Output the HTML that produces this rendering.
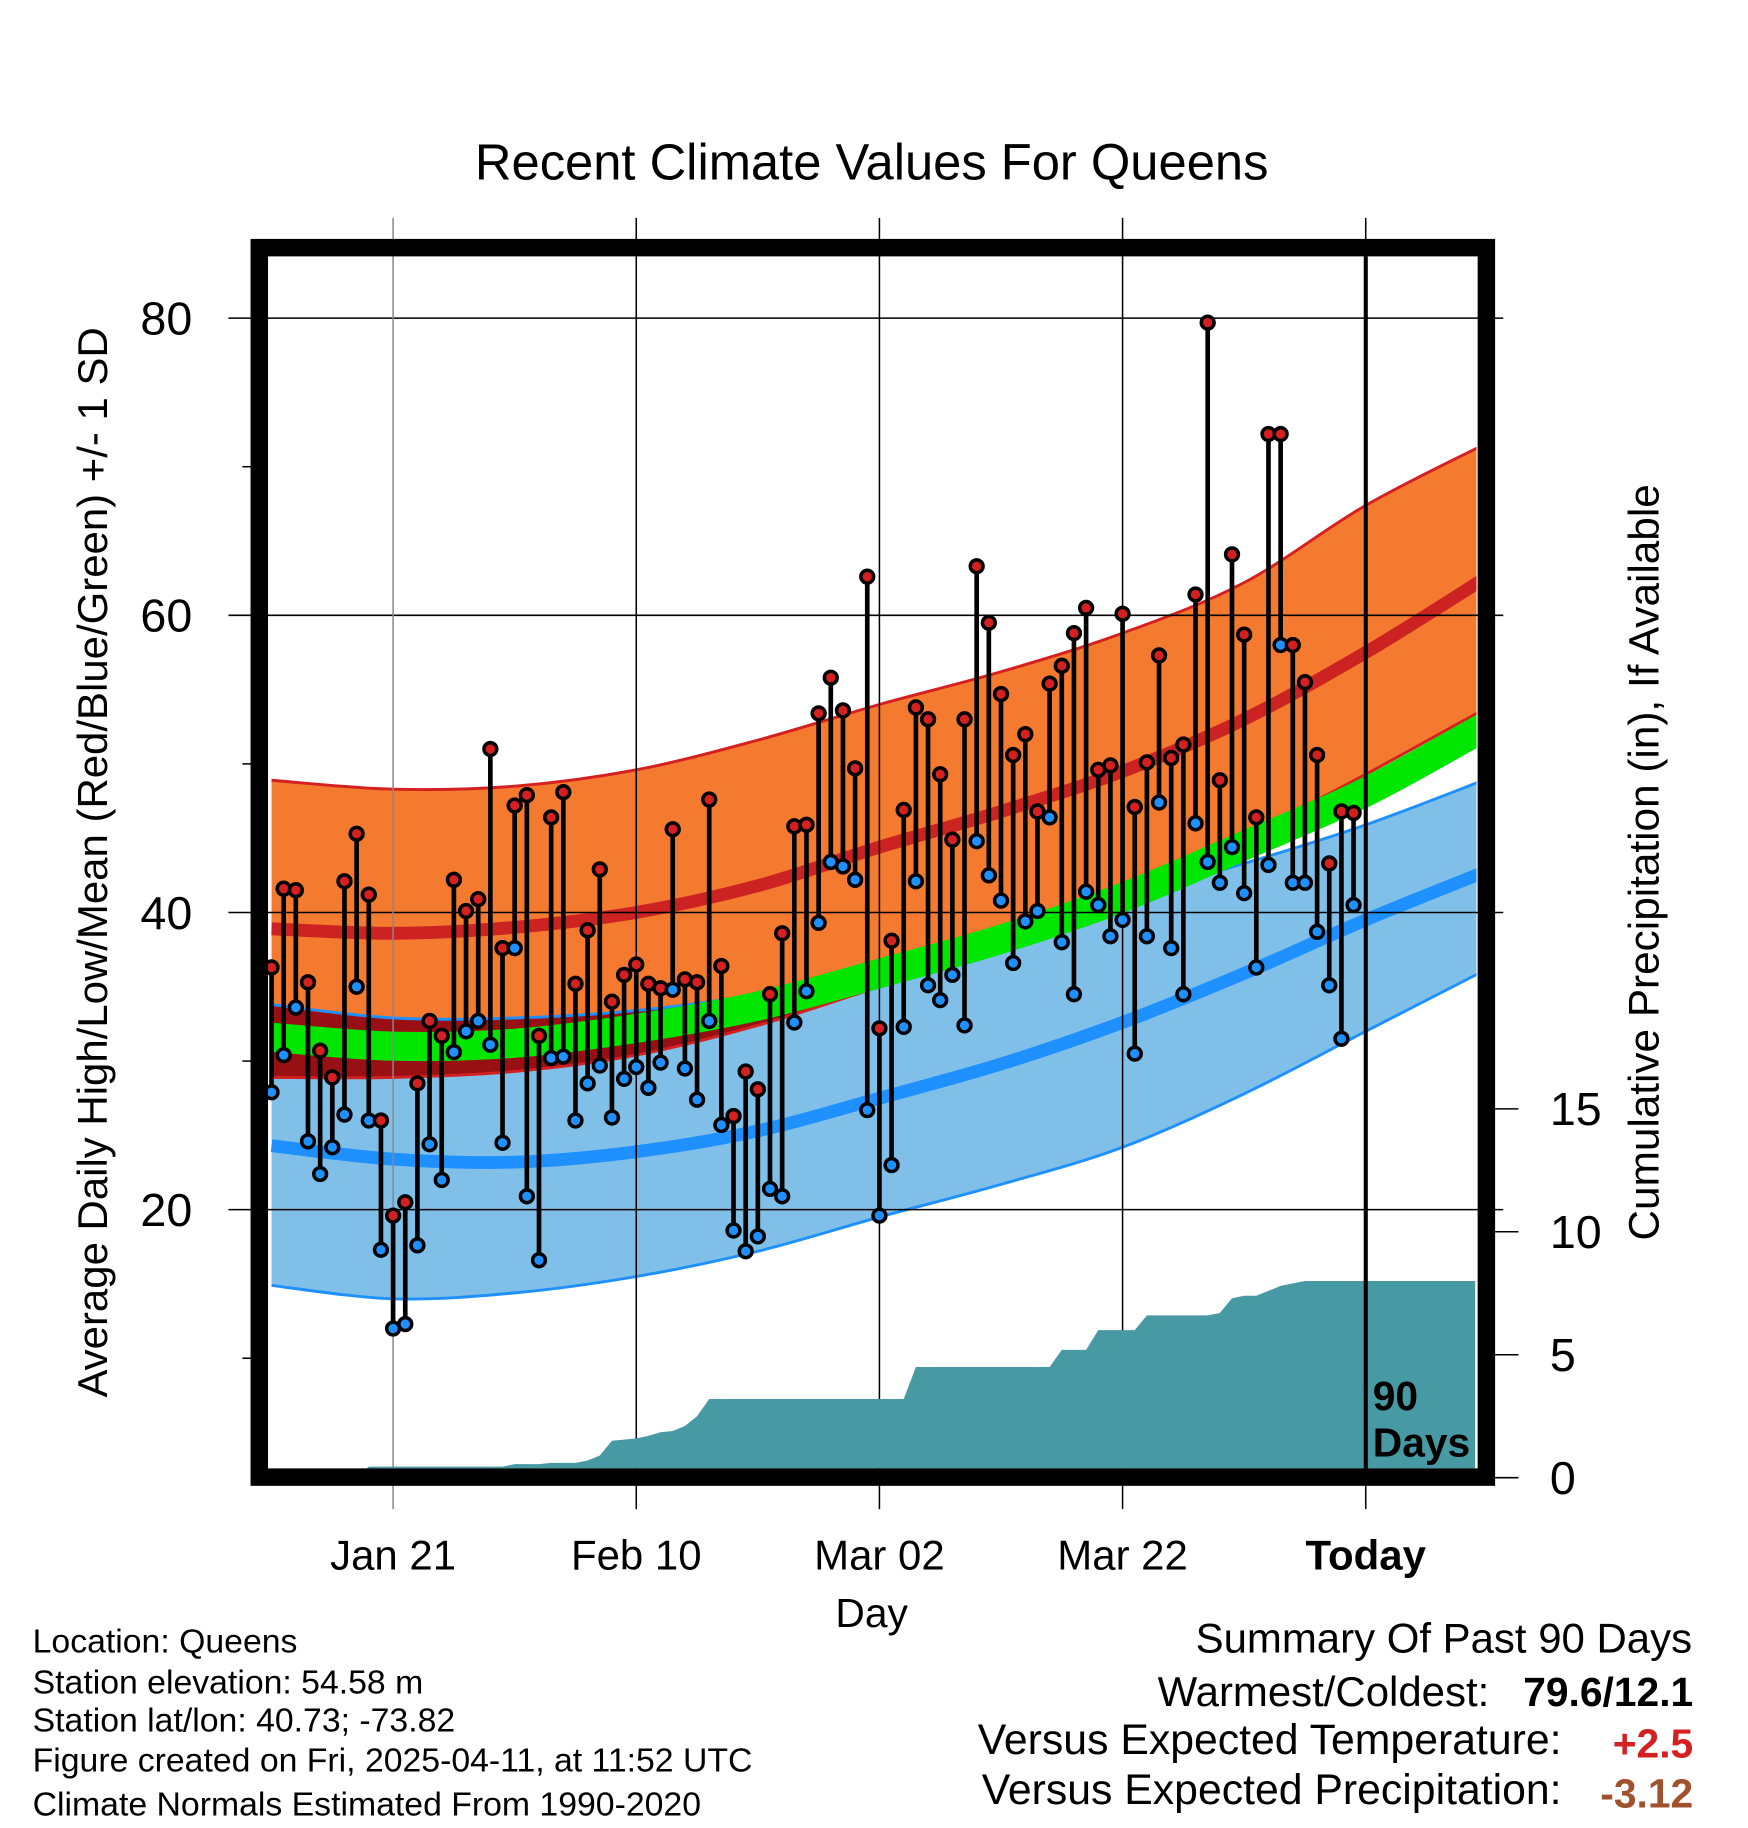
<!DOCTYPE html>
<html><head><meta charset="utf-8"><style>
html,body{margin:0;padding:0;background:#fff;}
svg{display:block;font-family:"Liberation Sans",sans-serif;}
</style></head><body>
<svg id="chart" width="1748" height="1828" viewBox="0 0 1500 1568.6" preserveAspectRatio="none" xmlns="http://www.w3.org/2000/svg">
<defs><clipPath id="plotclip"><rect x="231" y="220" width="1036" height="1040"/></clipPath></defs>
<text x="748" y="154" font-size="43.5" text-anchor="middle">Recent Climate Values For Queens</text>
<g id="bands" clip-path="url(#plotclip)"></g>
<g id="grid"></g>
<g id="precip" clip-path="url(#plotclip)"></g>
<g id="marks"></g>
<g id="axes"></g>
<rect x="222.5" y="212.5" width="1053" height="1055" fill="none" stroke="#000" stroke-width="15"/>
<line x1="1172" y1="220" x2="1172" y2="1260" stroke="#000" stroke-width="3.5"/>
<text x="1178" y="1210" font-size="35" font-weight="bold">90</text>
<text x="1178" y="1250" font-size="35" font-weight="bold">Days</text>
<text transform="translate(92,740) rotate(-90)" font-size="36" text-anchor="middle">Average Daily High/Low/Mean (Red/Blue/Green) +/- 1 SD</text>
<text transform="translate(1423,740) rotate(-90)" font-size="36.3" text-anchor="middle">Cumulative Precipitation (in), If Available</text>
<text x="748" y="1396" font-size="35" text-anchor="middle">Day</text>
<g font-size="29">
<text x="28" y="1418">Location: Queens</text>
<text x="28" y="1453">Station elevation: 54.58 m</text>
<text x="28" y="1486">Station lat/lon: 40.73; -73.82</text>
<text x="28" y="1520">Figure created on Fri, 2025-04-11, at 11:52 UTC</text>
<text x="28" y="1558">Climate Normals Estimated From 1990-2020</text>
</g>
<g font-size="36">
<text x="1452" y="1418" text-anchor="end">Summary Of Past 90 Days</text>
<text x="1278" y="1464" text-anchor="end">Warmest/Coldest:</text>
<text x="1453" y="1464" text-anchor="end" font-weight="bold" font-size="35">79.6/12.1</text>
<text x="1340" y="1505" text-anchor="end" font-size="36.7">Versus Expected Temperature:</text>
<text x="1453" y="1508" text-anchor="end" font-weight="bold" fill="#d42020" font-size="35">+2.5</text>
<text x="1340" y="1548" text-anchor="end" font-size="36.7">Versus Expected Precipitation:</text>
<text x="1453" y="1551" text-anchor="end" font-weight="bold" fill="#a0522d" font-size="35">-3.12</text>
</g>
</svg>
<script>
const highs=[36.3,41.6,41.5,35.3,30.7,28.9,42.1,45.3,41.2,26.0,19.6,20.5,28.5,32.7,31.7,42.2,40.1,40.9,51.0,37.6,47.2,47.9,31.7,46.4,48.1,35.2,38.8,42.9,34.0,35.8,36.5,35.2,34.9,45.6,35.5,35.3,47.6,36.4,26.3,29.3,28.1,34.5,38.6,45.8,45.9,53.4,55.8,53.6,49.7,62.6,32.2,38.1,46.9,53.8,53.0,49.3,44.9,53.0,63.3,59.5,54.7,50.6,52.0,46.8,55.4,56.6,58.8,60.5,49.6,49.9,60.1,47.1,50.1,57.3,50.4,51.3,61.4,79.7,48.9,64.1,58.7,46.4,72.2,72.2,58.0,55.5,50.6,43.3,46.8,46.7];
const lows=[27.9,30.4,33.6,24.6,22.4,24.2,26.4,35.0,26.0,17.3,12.0,12.3,17.6,24.4,22.0,30.6,32.0,32.7,31.1,24.5,37.6,20.9,16.6,30.2,30.3,26.0,28.5,29.7,26.2,28.8,29.6,28.2,29.9,34.8,29.5,27.4,32.7,25.7,18.6,17.2,18.2,21.4,20.9,32.6,34.7,39.3,43.4,43.1,42.2,26.7,19.6,23.0,32.3,42.1,35.1,34.1,35.8,32.4,44.8,42.5,40.8,36.6,39.4,40.1,46.4,38.0,34.5,41.4,40.5,38.4,39.5,30.5,38.4,47.4,37.6,34.5,46.0,43.4,42.0,44.4,41.3,36.3,43.2,58.0,42.0,42.0,38.7,35.1,31.5,40.5];
const precip=[0,0,0,0,0,0,0,0,0.45,0.45,0.45,0.45,0.45,0.45,0.45,0.45,0.45,0.45,0.45,0.45,0.55,0.55,0.55,0.6,0.6,0.6,0.7,0.9,1.5,1.55,1.6,1.7,1.85,1.9,2.1,2.5,3.2,3.2,3.2,3.2,3.2,3.2,3.2,3.2,3.2,3.2,3.2,3.2,3.2,3.2,3.2,3.2,3.2,4.5,4.5,4.5,4.5,4.5,4.5,4.5,4.5,4.5,4.5,4.5,4.5,5.2,5.2,5.2,6.0,6.0,6.0,6.0,6.6,6.6,6.6,6.6,6.6,6.6,6.7,7.3,7.4,7.4,7.6,7.8,7.9,8.0,8.0,8.0,8.0,8.0,8.0,8.0,8.0,8.0,8.0,8.0,8.0,8.0,8.0,8.0];
const normDays=[0,10,20,30,40,50,60,70,80,90,100];
const highUpper=[48.9,48.3,48.5,49.6,51.6,54.0,56.2,58.8,62.2,67.4,71.6];
const highMean=[38.9,38.6,39.0,40.0,41.8,44.4,46.8,49.5,53.0,57.5,62.6];
const highLower=[28.9,28.9,29.3,30.4,32.4,35.0,37.6,40.6,45.0,49.3,53.8];
const lowUpper=[33.8,32.9,32.9,33.4,34.5,36.3,38.5,41.0,43.3,45.9,49.0];
const lowMean=[24.3,23.4,23.2,23.9,25.3,27.5,29.8,32.6,35.9,39.5,42.8];
const lowLower=[14.9,14.0,14.4,15.5,17.2,19.5,21.7,24.2,27.8,32.0,36.2];
const meanLine=[31.6,31.0,31.2,32.2,33.7,35.9,38.2,41.0,44.5,48.1,52.6];
const yTicks=[20,40,60,80];
const yMinor=[10,30,50,70];
const pTicks=[0,5,10,15];
const xTickDays=[10,30,50,70,90];
const xTickLabels=["Jan 21","Feb 10","Mar 02","Mar 22","Today"];

const NS="http://www.w3.org/2000/svg";
const X=d=>233+d*10.433;
const Y=v=>273+(80-v)*12.75;
const P=v=>1268-v*21.1;
function mk(tag,attrs,parent){const e=document.createElementNS(NS,tag);for(const k in attrs)e.setAttribute(k,attrs[k]);parent.appendChild(e);return e;}
function curve(pts){let d="";
 for(let i=0;i<pts.length-1;i++){const p0=pts[Math.max(0,i-1)],p1=pts[i],p2=pts[i+1],p3=pts[Math.min(pts.length-1,i+2)];
  const c1=[p1[0]+(p2[0]-p0[0])/6,p1[1]+(p2[1]-p0[1])/6],c2=[p2[0]-(p3[0]-p1[0])/6,p2[1]-(p3[1]-p1[1])/6];
  d+=" C"+c1[0]+","+c1[1]+" "+c2[0]+","+c2[1]+" "+p2[0]+","+p2[1];}
 return d;}
function spline(vals){const pts=vals.map((v,i)=>[X(normDays[i]),Y(v)]);return "M"+pts[0][0]+","+pts[0][1]+curve(pts);}
function band(up,lo){const days=normDays.slice().reverse();
 const pts=lo.slice().reverse().map((v,i)=>[X(days[i]),Y(v)]);
 return spline(up)+" L"+pts[0][0]+","+pts[0][1]+curve(pts)+" Z";}
const bands=document.getElementById('bands');
const defs=document.querySelector('defs');
const cp=mk('clipPath',{id:'hiclip'},defs);mk('path',{d:band(highUpper,highLower)},cp);
let e;
e=mk('path',{d:band(highUpper,highLower),fill:'#f47a30'},bands);


e=mk('path',{d:band(lowUpper,lowLower),fill:'#80c0e8'},bands);


e=mk('path',{d:band(lowUpper,lowLower),fill:'#980f14','clip-path':'url(#hiclip)'},bands);


[[highUpper,'#d42020',2.5],[highLower,'#d42020',2.5],[lowUpper,'#1e90ff',2.5],[lowLower,'#1e90ff',2.5],[highMean,'#cc2222',11],[lowMean,'#1e90ff',11]].forEach((s,i)=>{
 const p=mk('path',{d:spline(s[0]),fill:'none',stroke:s[1],'stroke-width':s[2]},bands);
 
 });
e=mk('path',{d:spline(meanLine),fill:'none',stroke:'#00e600','stroke-width':25},bands);



const grid=document.getElementById('grid');
yTicks.forEach(v=>{const l=mk('line',{x1:196,x2:1290,y1:Y(v),y2:Y(v),stroke:'#000','stroke-width':1.3},grid);
 
 });
xTickDays.forEach((d,i)=>{const l=mk('line',{x1:X(d),x2:X(d),y1:187,y2:1295,stroke:i==0?'#888':'#000','stroke-width':1.3},grid);
 
 });

const pr=document.getElementById('precip');
let pd="M"+X(0)+","+P(0);
precip.forEach((v,i)=>{pd+=" L"+X(i)+","+P(v);});
pd+=" L"+X(precip.length-1)+","+P(0)+" Z";
e=mk('path',{d:pd,fill:'#4799a4'},pr);



const marks=document.getElementById('marks');
highs.forEach((h,i)=>{const x=X(i);
 const l=mk('line',{x1:x,x2:x,y1:Y(h),y2:Y(lows[i]),stroke:'#000','stroke-width':4},marks);
 
 
 const c1=mk('circle',{cx:x,cy:Y(h),r:5.5,fill:'#d42020',stroke:'#000','stroke-width':3},marks);
 
 
 const c2=mk('circle',{cx:x,cy:Y(lows[i]),r:5.5,fill:'#1e90ff',stroke:'#000','stroke-width':3},marks);
 
 });

const axes=document.getElementById('axes');
yTicks.forEach(v=>{const t=mk('text',{x:165,y:Y(v)+14,'font-size':40,'text-anchor':'end'},axes);t.textContent=v;
 
 });
yMinor.forEach(v=>{const l=mk('line',{x1:208,x2:216,y1:Y(v),y2:Y(v),stroke:'#000','stroke-width':1.3},axes);
 
 });
pTicks.forEach(v=>{const l=mk('line',{x1:1283,x2:1303,y1:P(v),y2:P(v),stroke:'#000','stroke-width':1.3},axes);
 
 
 const t=mk('text',{x:1330,y:P(v)+14,'font-size':40},axes);t.textContent=v;
 
 });
xTickDays.forEach((d,i)=>{const t=mk('text',{x:X(d),y:1347,'font-size':36,'text-anchor':'middle'},axes);t.textContent=xTickLabels[i];
 if(i==4)t.setAttribute('font-weight','bold');
 
 });
</script>
</body></html>
